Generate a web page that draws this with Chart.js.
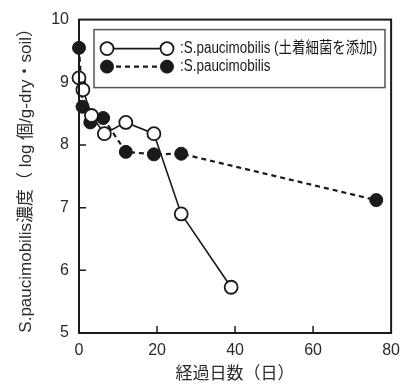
<!DOCTYPE html>
<html>
<head>
<meta charset="utf-8">
<script src="https://cdn.jsdelivr.net/npm/chart.js@4"></script>
<style>
  html, body { margin: 0; padding: 0; background: #fff; }
  #wrap { width: 408px; height: 385px; position: relative; }
</style>
</head>
<body>
<div id="wrap"><canvas id="survivalChart"></canvas></div>
<script>
// 経過日数と菌濃度（log 個/g-dry・soil）
const addedDays = [0, 1, 3.2, 6.5, 12, 19.2, 26.2, 39];
const addedLog = [9.07, 8.88, 8.47, 8.18, 8.36, 8.18, 6.9, 5.73];
const aloneDays = [0, 0.9, 2.9, 6.2, 12, 19.2, 26.2, 76.2];
const aloneLog = [9.55, 8.61, 8.36, 8.43, 7.89, 7.85, 7.86, 7.12];

const legendLabels = [':S.paucimobilis (土着細菌を添加)', ':S.paucimobilis'];
const xTicks = [0, 20, 40, 60, 80];
const yTicks = [5, 6, 7, 8, 9, 10];

const INK = '#1a1a1a';
const FONT = "'Liberation Sans', 'Noto Sans CJK JP', sans-serif";

function toPoints(xs, ys) {
    return xs.map((x, i) => ({ x: x, y: ys[i] }));
}

// 枠・内向き目盛り・凡例を描く
const framePlugin = {
    id: 'frame',
    afterDatasetsDraw(chart) {
        const { ctx, chartArea: a, scales } = chart;
        ctx.save();
        ctx.strokeStyle = INK;
        ctx.lineWidth = 2;
        ctx.strokeRect(a.left, a.top, a.right - a.left, a.bottom - a.top);

        // 内向きの目盛り
        ctx.lineWidth = 1.5;
        ctx.beginPath();
        xTicks.slice(1, -1).forEach(v => {
            const px = scales.x.getPixelForValue(v);
            ctx.moveTo(px, a.bottom);
            ctx.lineTo(px, a.bottom - 7);
        });
        yTicks.slice(1, -1).forEach(v => {
            const py = scales.y.getPixelForValue(v);
            ctx.moveTo(a.left, py);
            ctx.lineTo(a.left + 7, py);
        });
        ctx.stroke();

        // 凡例
        const bx = a.left + 15, by = a.top + 10, bw = 291, bh = 58;
        ctx.fillStyle = '#fff';
        ctx.fillRect(bx, by, bw, bh);
        ctx.strokeStyle = '#555';
        ctx.lineWidth = 1.5;
        ctx.strokeRect(bx, by, bw, bh);

        chart.data.datasets.forEach((ds, i) => {
            const y = by + 19 + i * 18;
            const x1 = bx + 13, x2 = bx + 73;
            ctx.strokeStyle = ds.borderColor;
            ctx.lineWidth = ds.borderWidth;
            ctx.setLineDash(ds.borderDash || []);
            ctx.beginPath();
            ctx.moveTo(x1, y);
            ctx.lineTo(x2, y);
            ctx.stroke();
            ctx.setLineDash([]);
            [x1, x2].forEach(cx => {
                ctx.beginPath();
                ctx.arc(cx, y, ds.pointRadius, 0, Math.PI * 2);
                ctx.fillStyle = ds.pointBackgroundColor;
                ctx.fill();
                ctx.lineWidth = ds.pointBorderWidth;
                ctx.strokeStyle = ds.pointBorderColor;
                ctx.stroke();
            });
            // 細めの書体に見えるよう横方向を詰める
            ctx.save();
            ctx.translate(bx + 86, y);
            ctx.scale(0.84, 1);
            ctx.fillStyle = INK;
            ctx.font = '16px ' + FONT;
            ctx.textBaseline = 'middle';
            ctx.fillText(legendLabels[i], 0, 0);
            ctx.restore();
        });
        ctx.restore();
    }
};

new Chart(document.getElementById('survivalChart'), {
    type: 'scatter',
    data: {
        datasets: [{
            label: legendLabels[0],
            data: toPoints(addedDays, addedLog),
            showLine: true,
            borderColor: INK,
            borderWidth: 1.6,
            pointRadius: 6.5,
            pointBackgroundColor: '#fff',
            pointBorderColor: INK,
            pointBorderWidth: 1.8,
            clip: false
        }, {
            label: legendLabels[1],
            data: toPoints(aloneDays, aloneLog),
            showLine: true,
            borderColor: INK,
            borderWidth: 2.2,
            borderDash: [5, 4],
            pointRadius: 6.5,
            pointBackgroundColor: INK,
            pointBorderColor: INK,
            pointBorderWidth: 1,
            clip: false
        }]
    },
    options: {
        responsive: true,
        maintainAspectRatio: false,
        animation: false,
        layout: { padding: { top: 15, right: 10, left: 0, bottom: 0 } },
        plugins: {
            legend: { display: false },
            tooltip: { enabled: false }
        },
        scales: {
            x: {
                type: 'linear',
                min: 0,
                max: 80,
                afterFit(scale) { scale.height = 52; },
                afterBuildTicks(scale) { scale.ticks = xTicks.map(v => ({ value: v })); },
                grid: { display: false, drawTicks: false },
                border: { display: false },
                ticks: { color: '#2a2a2a', padding: 8, font: { family: FONT, size: 16 } },
                title: {
                    display: true,
                    text: '経過日数（日）',
                    color: '#2a2a2a',
                    padding: { top: 3, bottom: 0 },
                    font: { family: FONT, size: 17 }
                }
            },
            y: {
                type: 'linear',
                min: 5,
                max: 10,
                afterFit(scale) { scale.width = 79; },
                afterBuildTicks(scale) { scale.ticks = yTicks.map(v => ({ value: v })); },
                grid: { display: false, drawTicks: false },
                border: { display: false },
                ticks: { color: '#2a2a2a', padding: 10, font: { family: FONT, size: 16 } },
                title: {
                    display: true,
                    text: 'S.paucimobilis濃度（ log 個/g-dry・soil）',
                    color: '#2a2a2a',
                    padding: { top: 16, bottom: 0 },
                    font: { family: FONT, size: 17 }
                }
            }
        }
    },
    plugins: [framePlugin]
});
</script>
</body>
</html>
